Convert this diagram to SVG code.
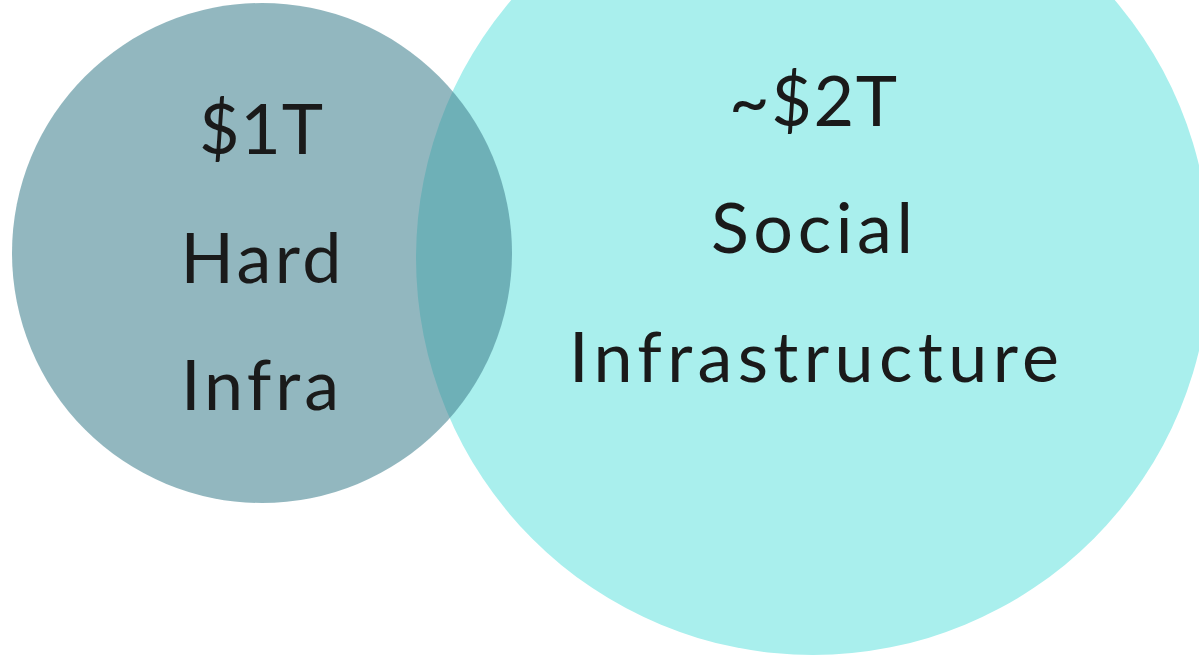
<svg xmlns="http://www.w3.org/2000/svg" width="1199" height="657" viewBox="0 0 1199 657">
<style>
.lbl{font-family:Lato,"Open Sans","Liberation Sans",sans-serif;font-size:70px;fill:#1a1a1a;text-anchor:middle}
</style>
<rect x="0" y="0" width="1199" height="657" fill="#ffffff"/>
<g id="social">
<circle cx="813" cy="258" r="397" fill="#a9efed"/>
</g>
<g id="hard">
<circle cx="262" cy="253" r="250" fill="#438391" fill-opacity="0.58"/>
</g>
<g id="connectors"></g>
<g id="hard-labels">
<text class="lbl" x="261" y="154" textLength="124" lengthAdjust="spacing">$1T</text>
<text class="lbl" x="261" y="282.5" textLength="161" lengthAdjust="spacing">Hard</text>
<text class="lbl" x="260" y="410" textLength="158" lengthAdjust="spacing">Infra</text>
</g>
<g id="social-labels">
<text class="lbl" x="813" y="125.5" textLength="168" lengthAdjust="spacing">~$2T</text>
<text class="lbl" x="812" y="253" textLength="202" lengthAdjust="spacing">Social</text>
<text class="lbl" x="814" y="382" textLength="490" lengthAdjust="spacing">Infrastructure</text>
</g>
</svg>
